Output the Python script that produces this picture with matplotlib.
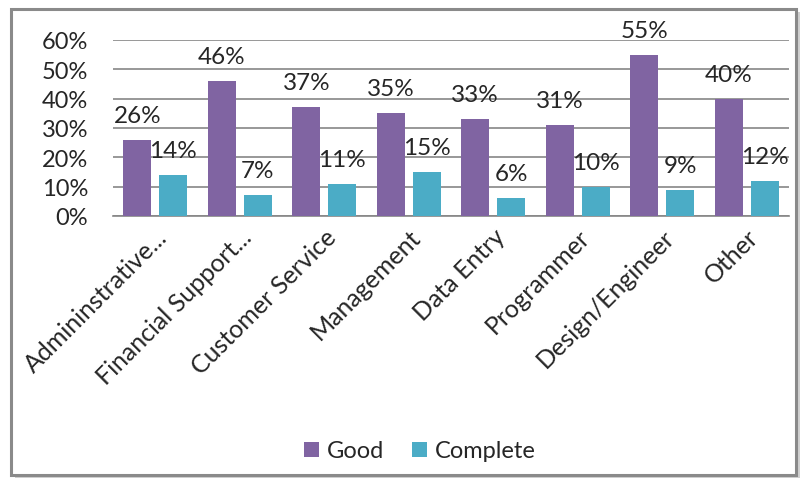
import numpy as np
import matplotlib.pyplot as plt
from matplotlib.patches import Rectangle
from matplotlib.ticker import PercentFormatter

plt.rcParams['font.family'] = ['Lato', 'DejaVu Sans']

categories = ['Admininstrative...', 'Financial Support...', 'Customer Service',
              'Management', 'Data Entry', 'Programmer', 'Design/Engineer', 'Other']
good = [26, 46, 37, 35, 33, 31, 55, 40]
complete = [14, 7, 11, 15, 6, 10, 9, 12]

purple = '#8064A2'
cyan = '#4BACC6'
txt = '#262626'

fig = plt.figure(figsize=(8.04, 4.85), dpi=100)
fig.patch.set_facecolor('white')

# chart frame with a soft drop shadow, kept behind the axes
fig.patches.append(Rectangle((15 / 804, 6 / 485), 785 / 804, 466 / 485,
                             transform=fig.transFigure, facecolor='#d0d0d0',
                             edgecolor='none', zorder=-2))
fig.patches.append(Rectangle((11 / 804, 9 / 485), 785 / 804, 466 / 485,
                             transform=fig.transFigure, facecolor='white',
                             edgecolor='#8a8a8a', linewidth=2.2, zorder=-1))

ax = fig.add_axes([113 / 804, 1 - 217 / 485, 676 / 804, 176 / 485])
ax.set_facecolor('none')

x = np.arange(len(categories))
w = 0.33
off = 0.213
b1 = ax.bar(x - off, good, w, color=purple, zorder=3, label='Good')
b2 = ax.bar(x + off, complete, w, color=cyan, zorder=3, label='Complete')

for bars, vals in ((b1, good), (b2, complete)):
    for r, v in zip(bars, vals):
        ax.annotate(f'{v}%', (r.get_x() + r.get_width() / 2, v),
                    xytext=(0, 13), textcoords='offset points',
                    ha='center', va='baseline', fontsize=17.5, color=txt,
                    zorder=4, annotation_clip=False)

ax.set_ylim(0, 60)
ax.set_xlim(-0.5, len(categories) - 0.5)
ax.set_yticks(range(0, 61, 10))
ax.yaxis.set_major_formatter(PercentFormatter(decimals=0))
ax.grid(axis='y', color='#868686', linewidth=1.2, zorder=1)
ax.tick_params(axis='y', length=0, pad=18, labelsize=17, labelcolor=txt)
ax.tick_params(axis='x', length=0, pad=6, labelsize=18, labelcolor=txt)
ax.set_xticks(x)
ax.set_xticklabels(categories, rotation=45, ha='right', rotation_mode='anchor')
for s in ('left', 'right', 'top'):
    ax.spines[s].set_visible(False)
ax.spines['bottom'].set_color('#868686')
ax.spines['bottom'].set_linewidth(1.2)

fig.legend(handles=[b1, b2], labels=['Good', 'Complete'], loc='center',
           bbox_to_anchor=(420 / 804, 1 - 452 / 485), ncol=2, frameon=False,
           fontsize=17, handlelength=0.6, handleheight=0.6, handletextpad=0.35,
           columnspacing=1.2, labelcolor=txt)

fig.savefig('out.png', dpi=100)
